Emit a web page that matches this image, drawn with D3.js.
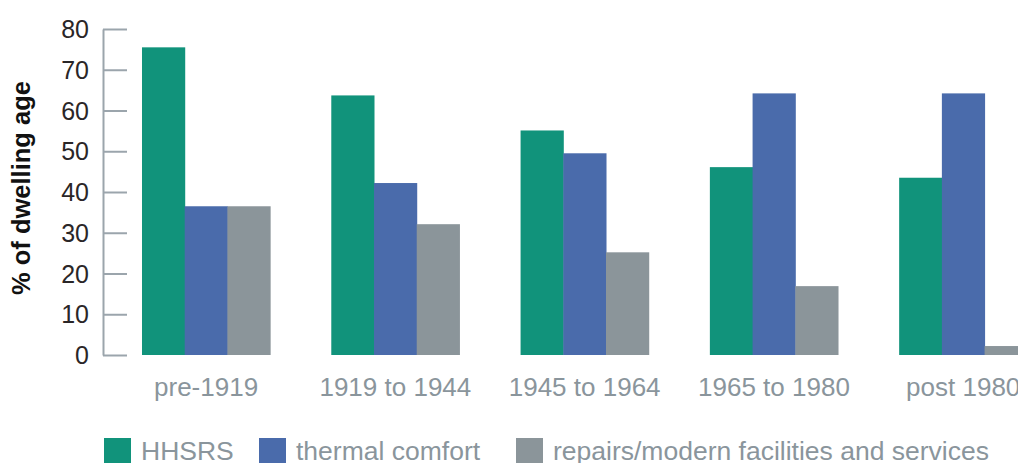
<!DOCTYPE html>
<html>
<head>
<meta charset="utf-8">
<script src="https://cdn.jsdelivr.net/npm/d3@7"></script>
<style>
  html, body { margin: 0; padding: 0; background: #fff; }
  svg { display: block; font-family: "Liberation Sans", Arial, sans-serif; }
</style>
</head>
<body>
<svg id="chart" width="1018" height="463"></svg>
<script>
// Share of dwellings failing each criterion, by dwelling age band
const categories = ["pre-1919", "1919 to 1944", "1945 to 1964", "1965 to 1980", "post 1980"];
const seriesNames = ["HHSRS", "thermal comfort", "repairs/modern facilities and services"];
const hhsrs = [75.5, 63.7, 55.1, 46.1, 43.5];
const thermalComfort = [36.5, 42.2, 49.5, 64.2, 64.2];
const repairs = [36.5, 32.1, 25.2, 16.9, 2.2];
const yTicks = [0, 10, 20, 30, 40, 50, 60, 70, 80];
const colors = ["#11937b", "#4a6bab", "#8b959a"];

const seriesValues = [hhsrs, thermalComfort, repairs];
const rows = categories.map((c, i) => ({
  category: c,
  values: seriesNames.map((s, j) => ({ series: s, value: seriesValues[j][i] }))
}));

const svg = d3.select("#chart");
const axisX = 103;

const y = d3.scaleLinear().domain([0, 80]).range([355, 29]);

const x0 = d3.scaleBand()
  .domain(categories)
  .range([axisX, 1066.3])
  .paddingInner(0.323)
  .paddingOuter(0.206);

const x1 = d3.scaleBand()
  .domain(seriesNames)
  .range([0, x0.bandwidth()]);

const color = d3.scaleOrdinal().domain(seriesNames).range(colors);

// Bars
const groups = svg.append("g")
  .selectAll("g")
  .data(rows)
  .join("g")
  .attr("transform", d => `translate(${x0(d.category)},0)`);

groups.selectAll("rect")
  .data(d => d.values)
  .join("rect")
  .attr("x", d => x1(d.series))
  .attr("width", x1.bandwidth() + 0.5)
  .attr("y", d => y(d.value))
  .attr("height", d => y(0) - y(d.value))
  .attr("fill", d => color(d.series));

// Y axis: ticks point into the plot, labels to the left
const yAxis = svg.append("g")
  .attr("transform", `translate(${axisX},0)`)
  .call(d3.axisRight(y).tickValues(yTicks).tickSize(24).tickSizeOuter(0));

yAxis.select(".domain").attr("stroke", "#9ba5ac").attr("stroke-width", 2);
yAxis.selectAll(".tick line").attr("stroke", "#9ba5ac").attr("stroke-width", 2);
yAxis.selectAll(".tick text")
  .attr("x", -14)
  .attr("dy", "0.34em")
  .attr("text-anchor", "end")
  .attr("fill", "#2a2627")
  .style("font-size", "25px")
  .style("font-family", "'Liberation Sans', Arial, sans-serif");

// Category labels
const xAxis = svg.append("g")
  .attr("transform", "translate(0,370)")
  .call(d3.axisBottom(x0).tickSize(0).tickSizeOuter(0));
xAxis.select(".domain").remove();
xAxis.selectAll(".tick text")
  .attr("y", 0)
  .attr("dy", "26px")
  .attr("fill", "#8a959c")
  .style("font-size", "26px")
  .style("font-family", "'Liberation Sans', Arial, sans-serif");

// Y axis title
svg.append("text")
  .attr("transform", "translate(30,188) rotate(-90)")
  .attr("text-anchor", "middle")
  .attr("fill", "#111")
  .style("font-size", "25.5px")
  .style("font-weight", "bold")
  .text("% of dwelling age");

// Legend
const legendItems = [
  { name: seriesNames[0], x: 104 },
  { name: seriesNames[1], x: 259 },
  { name: seriesNames[2], x: 516 }
];
const legend = svg.append("g")
  .selectAll("g")
  .data(legendItems)
  .join("g")
  .attr("transform", d => `translate(${d.x},0)`);

legend.append("rect")
  .attr("x", 0)
  .attr("y", 438)
  .attr("width", 27)
  .attr("height", 27)
  .attr("fill", d => color(d.name));

legend.append("text")
  .attr("x", 37)
  .attr("y", 460)
  .attr("fill", "#8a959c")
  .style("font-size", "26.5px")
  .text(d => d.name);
</script>
</body>
</html>
